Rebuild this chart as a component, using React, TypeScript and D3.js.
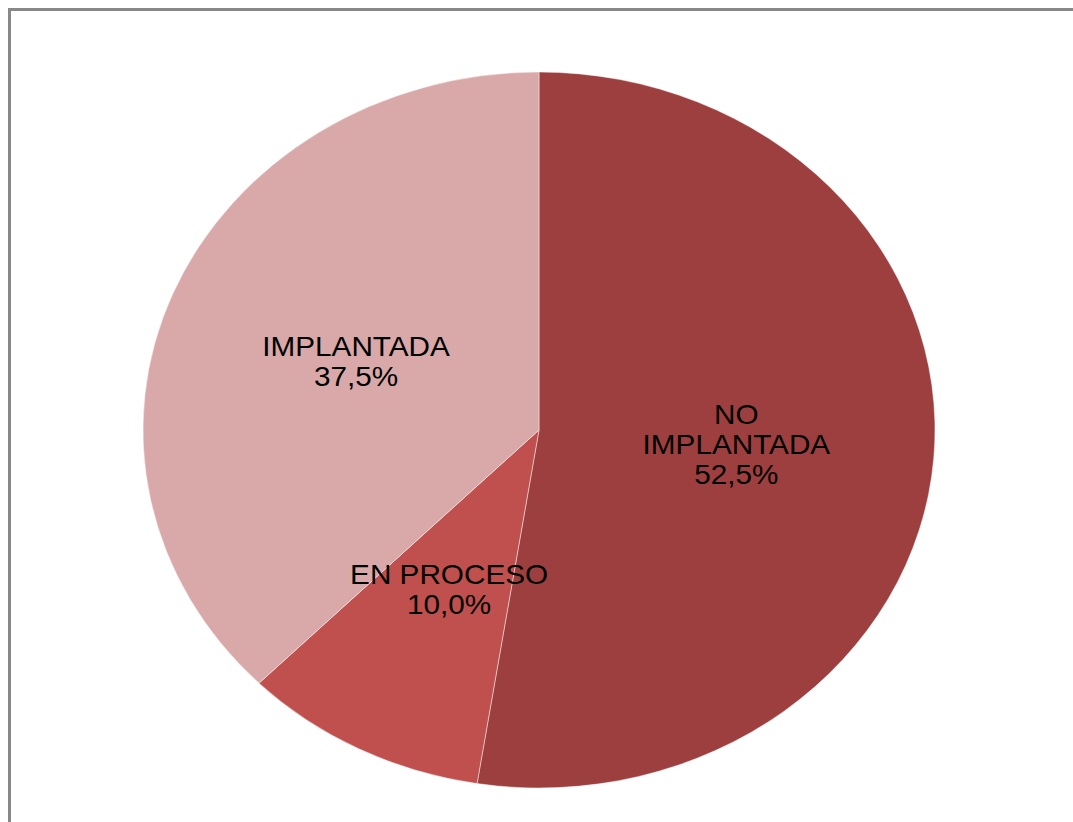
import React from "react";
import * as d3 from "d3";

const categories = ["NO IMPLANTADA", "EN PROCESO", "IMPLANTADA"];
const labelLines = [["NO", "IMPLANTADA"], ["EN PROCESO"], ["IMPLANTADA"]];
const values = [52.5, 10.0, 37.5];
const percentLabels = ["52,5%", "10,0%", "37,5%"];
const colors = ["#9E3F3F", "#C0504D", "#D9A9A9"];

const width = 1073;
const height = 822;
const cx = 539;
const cy = 430;
const rx = 396;
const ry = 358;

const App: React.FC = () => {
  const pie = d3
    .pie<number>()
    .sort(null)
    .value((d) => d);
  const arcs = pie(values);

  // draw with radius ry, then stretch horizontally to get the oval
  const arc = d3.arc<d3.PieArcDatum<number>>().innerRadius(0).outerRadius(ry);
  const sx = rx / ry;
  const lineH = 30;
  const fontSize = 27;

  return (
    <svg
      width={width}
      height={height}
      style={{ position: "absolute", left: 0, top: 0, background: "#fff" }}
    >
      <rect x={9.5} y={9.5} width={1200} height={1000} fill="#fff" stroke="#888" strokeWidth={3} />

      <g transform={`translate(${cx}, ${cy}) scale(${sx}, 1)`}>
        {arcs.map((a, i) => (
          <path
            key={categories[i]}
            d={arc(a) || ""}
            fill={colors[i]}
            stroke="#ffffff"
            strokeOpacity={0.45}
            strokeWidth={1}
            vectorEffect="non-scaling-stroke"
          />
        ))}
      </g>

      {arcs.map((a, i) => {
        const [lx, ly] = arc.centroid(a);
        const x = cx + lx * sx;
        const y = cy + ly;
        const lines = [...labelLines[i], percentLabels[i]];
        const top = y - ((lines.length - 1) * lineH) / 2 + fontSize * 0.36;
        return (
          <g key={categories[i]}>
            {lines.map((t, j) => (
              <text
                key={j}
                transform={`translate(${x}, ${top + j * lineH}) scale(1.1, 1)`}
                textAnchor="middle"
                fontFamily="'Liberation Sans', Arial, sans-serif"
                fontSize={fontSize}
                fill="#000"
              >
                {t}
              </text>
            ))}
          </g>
        );
      })}
    </svg>
  );
};

export default App;
